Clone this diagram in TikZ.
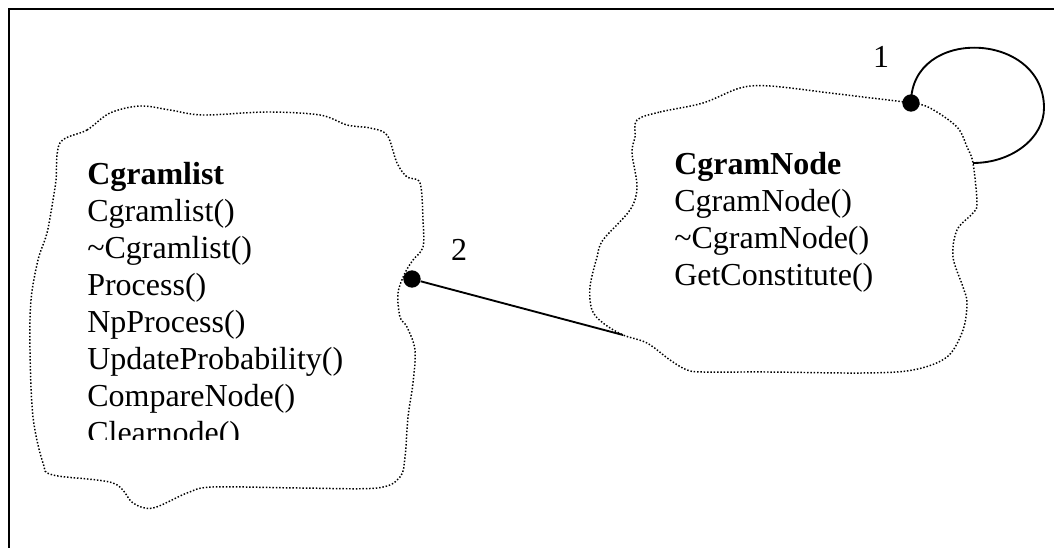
\documentclass[tikz,border=0pt]{standalone}
\usepackage{fontspec}
\setmainfont{Liberation Serif}
\begin{document}
\begin{tikzpicture}[x=0.75pt,y=-0.75pt,
  frame/.style={line width=1.5pt},
  blob/.style={line width=1.1pt, dash pattern=on 1.1pt off 1.4pt},
  link/.style={line width=1.4pt},
  enddot/.style={circle, fill=black, inner sep=0pt, minimum size=13pt},
  classtext/.style={align=left, inner sep=0pt, font=\fontsize{24}{27.75}\selectfont, anchor=base west},
  mult/.style={inner sep=0pt, font=\fontsize{24}{27.75}\selectfont, anchor=base}
]
\useasboundingbox (0,0) rectangle (1054,548);

% open frame: only the top and left edges show
\draw[frame] (9,552) -- (9,9) -- (1058,9);

% cloud outline of Cgramlist
\draw[blob] plot[smooth cycle, tension=0.55] coordinates {
  (60,143) (87,130) (110,113) (140,106) (170,110) (203,115) (267,112)
  (320,115) (347,125) (370,128) (387,135) (397,163) (407,177) (420,183)
  (423,220) (423,247) (413,260) (405,273) (398,293) (400,317) (407,327)
  (415,350) (413,383) (408,417) (405,457) (400,477) (377,488) (300,488)
  (213,487) (187,493) (153,508) (133,503) (113,483) (53,475) (43,463)
  (33,417) (30,350) (31,300) (38,260) (47,233) (53,200) (56,180)};

% cloud outline of CgramNode
\draw[blob] plot[smooth cycle, tension=0.55] coordinates {
  (637,120) (660,112) (703,103) (740,88) (770,86) (830,93) (863,97)
  (911,103) (930,108) (957,127) (967,147) (973,163) (977,203) (973,213)
  (957,230) (953,257) (963,287) (967,303) (963,330) (947,357) (913,370)
  (863,373) (767,372) (703,372) (687,370) (670,360) (647,343) (623,335)
  (603,323) (592,310) (590,287) (597,257) (603,240) (630,210) (637,187)
  (632,153) (635,137)};

% class texts (the base anchor sits on the last line)
\begin{scope}
  \clip (0,0) rectangle (1054,440);
  \node[classtext] (listtxt) at (87,444) {\textbf{Cgramlist}\\Cgramlist()\\\textasciitilde Cgramlist()\\Process()\\NpProcess()\\UpdateProbability()\\CompareNode()\\Clearnode()};
\end{scope}
\node[classtext] (nodetxt) at (674,286) {\textbf{CgramNode}\\CgramNode()\\\textasciitilde CgramNode()\\GetConstitute()};

% association ends
\node[enddot] (d1) at (911,103) {};
\node[enddot] (d2) at (412,279) {};
\coordinate (e2) at (623,335);
\coordinate (loopR) at (1044,108);
\coordinate (e1) at (973,163);

% multiplicities
\node[mult] (m1) at (881,68) {1};
\node[mult] (m2) at (459,261) {2};

% self association of CgramNode
\draw[link] (d1.center) .. controls (911,26) and (1044,31) .. (loopR)
  .. controls (1044,138) and (1012,163) .. (e1);

% association between the two classes
\draw[link] (d2) -- (e2);
\end{tikzpicture}
\end{document}
